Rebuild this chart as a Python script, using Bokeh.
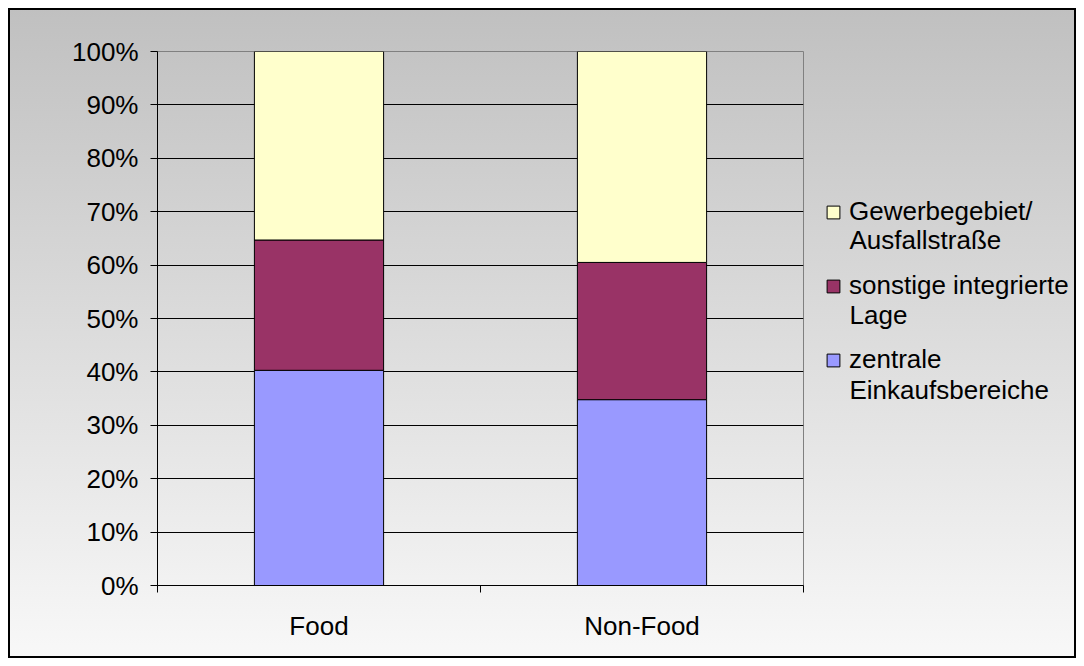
from bokeh.plotting import figure
from bokeh.models import (ColumnDataSource, FixedTicker, NumeralTickFormatter, Legend, LegendItem,
                          Range1d, Label)
from bokeh.layouts import row
from bokeh.embed import file_html
from bokeh.resources import INLINE

categories = ["Food", "Non-Food"]
zentrale = [0.403, 0.348]
sonstige = [0.244, 0.257]
gewerbe = [0.353, 0.395]
series_first = ["zentrale", "sonstige integrierte", "Gewerbegebiet/"]
series_second = ["Einkaufsbereiche", "Lage", "Ausfallstraße"]
y_ticks = [0.0, 0.1, 0.2, 0.3, 0.4, 0.5, 0.6, 0.7, 0.8, 0.9, 1.0]
colors = ["#9999FF", "#993366", "#FFFFCC"]
stack_keys = ["zentrale", "sonstige", "gewerbe"]

xpos = [i + 0.5 for i in range(len(categories))]
source = ColumnDataSource(dict(x=xpos, zentrale=zentrale, sonstige=sonstige, gewerbe=gewerbe))

FONT = "Liberation Sans"
FS = "26px"

p = figure(width=800, height=650, output_backend="svg", toolbar_location=None,
           x_range=Range1d(0, len(categories)), y_range=Range1d(0, 1),
           min_border_left=149, min_border_right=5, min_border_top=43, min_border_bottom=73)
p.background_fill_color = None
p.border_fill_color = None
p.outline_line_color = "#808080"
p.outline_line_width = 1

renderers = p.vbar_stack(stack_keys, x="x", width=0.4, source=source,
                         fill_color=colors, line_color="black", line_width=1)

# y axis
p.yaxis.ticker = FixedTicker(ticks=y_ticks)
p.yaxis.formatter = NumeralTickFormatter(format="0%")
p.yaxis.axis_line_color = "black"
p.yaxis.major_tick_line_color = "black"
p.yaxis.major_tick_out = 7
p.yaxis.major_tick_in = 0
p.yaxis.minor_tick_line_color = None
p.yaxis.major_label_text_font = FONT
p.yaxis.major_label_text_font_size = FS
p.yaxis.major_label_text_color = "black"
p.yaxis.major_label_standoff = 12

# x axis
p.xaxis.ticker = FixedTicker(ticks=xpos, minor_ticks=[float(i) for i in range(len(categories) + 1)])
p.xaxis.major_label_overrides = {xv: c for xv, c in zip(xpos, categories)}
p.xaxis.axis_line_color = "black"
p.xaxis.major_tick_line_color = None
p.xaxis.major_tick_out = 0
p.xaxis.major_tick_in = 0
p.xaxis.minor_tick_line_color = "black"
p.xaxis.minor_tick_out = 7
p.xaxis.minor_tick_in = 0
p.xaxis.major_label_text_font = FONT
p.xaxis.major_label_text_font_size = FS
p.xaxis.major_label_text_color = "black"
p.xaxis.major_label_standoff = 18

# grid
p.xgrid.grid_line_color = None
p.ygrid.ticker = FixedTicker(ticks=y_ticks[1:-1])
p.ygrid.grid_line_color = "black"
p.ygrid.grid_line_width = 1

# legend panel (separate canvas so the legend is not clipped by the plot frame)
pl = figure(width=268, height=650, output_backend="svg", toolbar_location=None,
            x_range=Range1d(0, 1), y_range=Range1d(0, 1),
            x_axis_location=None, y_axis_location=None,
            min_border_left=0, min_border_right=0, min_border_top=0, min_border_bottom=0)
pl.grid.visible = False
pl.outline_line_color = None
pl.background_fill_color = None
pl.border_fill_color = None

proxies = [pl.vbar(x="x", top=k, width=0.4, source=source, fill_color=c, line_color="black",
                   visible=False) for k, c in zip(stack_keys, colors)]

items = [LegendItem(label=series_first[i], renderers=[proxies[i]]) for i in [2, 1, 0]]
legend = Legend(items=items, location=(17, 210), orientation="vertical")
legend.background_fill_color = None
legend.border_line_color = None
legend.inactive_fill_alpha = 0
legend.label_text_font = FONT
legend.label_text_font_size = FS
legend.label_text_color = "black"
legend.label_text_line_height = 1.15
legend.glyph_width = 16
legend.glyph_height = 16
legend.spacing = 43
legend.padding = 0
legend.margin = 0
legend.label_standoff = 8
pl.add_layout(legend, "center")

for k, i in enumerate([2, 1, 0]):
    pl.add_layout(Label(x=41, y=346 - 75 * k, x_units="screen", y_units="screen",
                        text=series_second[i], text_font=FONT, text_font_size=FS,
                        text_color="black", text_baseline="middle", text_align="left"))

layout = row(p, pl, spacing=0)
layout.styles = {"margin": "8px",
                 "background": "linear-gradient(to bottom, #c0c0c0 0%, #f8f8f8 100%)",
                 "box-shadow": "inset 0 0 0 2px #000000"}

open("out.html", "w").write(file_html(layout, INLINE))
